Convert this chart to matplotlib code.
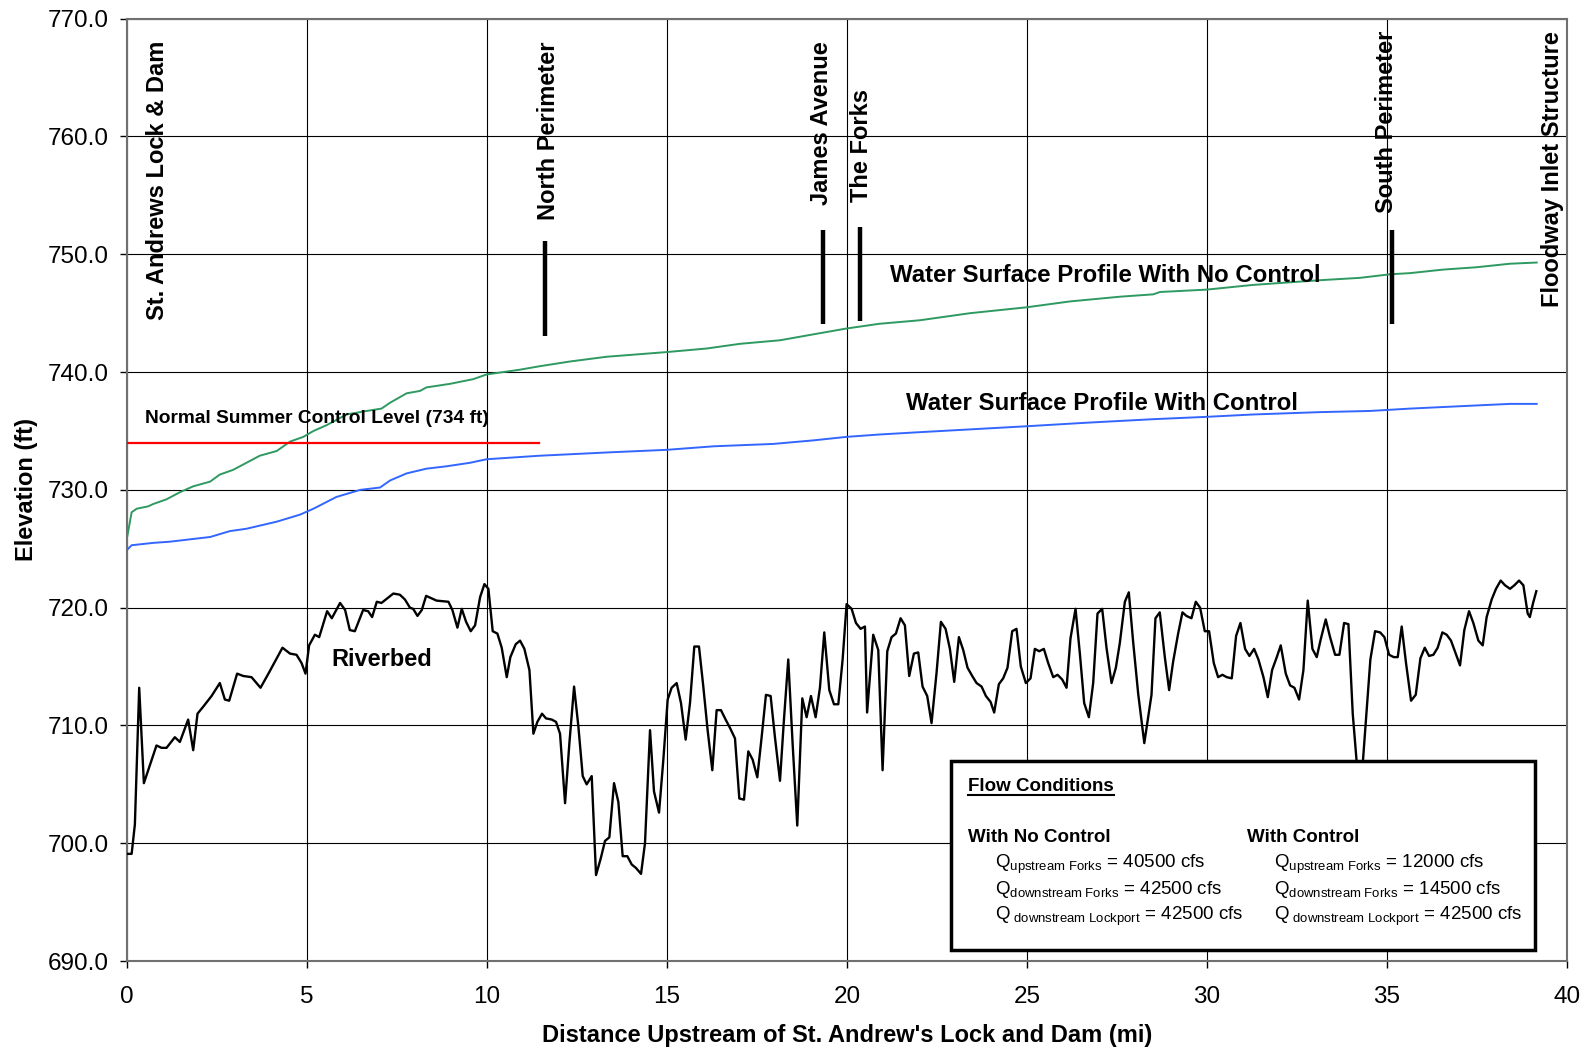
import matplotlib
matplotlib.use("Agg")
import matplotlib.pyplot as plt
from matplotlib.patches import Rectangle
from matplotlib.lines import Line2D

plt.rcParams['font.family'] = ['Liberation Sans', 'DejaVu Sans']
plt.rcParams['mathtext.fontset'] = 'custom'
plt.rcParams['mathtext.rm'] = 'Liberation Sans'
plt.rcParams['mathtext.it'] = 'Liberation Sans:italic'
plt.rcParams['mathtext.bf'] = 'Liberation Sans:bold'

# riverbed profile (mi, ft)
bed_mi = [0.0, 0.13, 0.22, 0.34, 0.47, 0.82, 0.96, 1.10, 1.33, 1.47, 1.70, 1.84, 1.96,
          2.12, 2.35, 2.58, 2.72, 2.84, 3.06, 3.23, 3.46, 3.71, 3.93, 4.32, 4.53, 4.71,
          4.85, 4.96, 5.06, 5.22, 5.34, 5.56, 5.69, 5.92, 6.06, 6.19, 6.33, 6.56, 6.70,
          6.81, 6.94, 7.07, 7.40, 7.58, 7.72, 7.86, 7.95, 8.07, 8.19, 8.31, 8.60, 8.93,
          9.04, 9.18, 9.30, 9.42, 9.55, 9.67, 9.81, 9.93, 10.04, 10.16, 10.29, 10.41,
          10.55, 10.65, 10.80, 10.92, 11.04, 11.18, 11.29, 11.40, 11.53, 11.64, 11.80,
          11.92, 12.03, 12.17, 12.29, 12.42, 12.54, 12.66, 12.77, 12.91, 13.03, 13.16,
          13.28, 13.40, 13.53, 13.65, 13.77, 13.90, 14.02, 14.14, 14.28, 14.39, 14.53,
          14.64, 14.78, 14.90, 15.02, 15.13, 15.27, 15.39, 15.52, 15.64, 15.76, 15.89,
          16.01, 16.13, 16.26, 16.38, 16.50, 16.63, 16.75, 16.89, 17.01, 17.14, 17.26,
          17.38, 17.51, 17.63, 17.75, 17.88, 18.00, 18.14, 18.25, 18.37, 18.49, 18.62,
          18.76, 18.88, 19.00, 19.13, 19.25, 19.37, 19.51, 19.64, 19.76, 19.88, 19.99,
          20.13, 20.25, 20.38, 20.50, 20.56, 20.73, 20.87, 20.99, 21.12, 21.24, 21.36,
          21.49, 21.61, 21.73, 21.86, 21.98, 22.10, 22.23, 22.35, 22.49, 22.61, 22.74,
          22.86, 22.98, 23.11, 23.23, 23.35, 23.48, 23.60, 23.74, 23.86, 23.99, 24.09,
          24.22, 24.34, 24.46, 24.59, 24.71, 24.83, 24.97, 25.10, 25.22, 25.34, 25.47,
          25.59, 25.73, 25.85, 25.98, 26.10, 26.21, 26.35, 26.47, 26.59, 26.72, 26.84,
          26.96, 27.09, 27.21, 27.35, 27.47, 27.58, 27.72, 27.83, 27.95, 28.09, 28.26,
          28.46, 28.57, 28.69, 28.83, 28.95, 29.06, 29.20, 29.32, 29.43, 29.57, 29.69,
          29.81, 29.94, 30.06, 30.19, 30.31, 30.43, 30.55, 30.69, 30.81, 30.93, 31.06,
          31.18, 31.31, 31.43, 31.57, 31.69, 31.81, 31.94, 32.05, 32.19, 32.31, 32.43,
          32.56, 32.68, 32.80, 32.93, 33.05, 33.16, 33.30, 33.42, 33.56, 33.68, 33.81,
          33.93, 34.05, 34.25, 34.54, 34.67, 34.81, 34.93, 35.06, 35.19, 35.30, 35.41,
          35.53, 35.67, 35.80, 35.93, 36.05, 36.17, 36.29, 36.41, 36.54, 36.66, 36.78,
          36.91, 37.03, 37.15, 37.28, 37.40, 37.54, 37.66, 37.77, 37.91, 38.03, 38.16,
          38.28, 38.42, 38.54, 38.67, 38.79, 38.91, 38.97, 39.06, 39.15]
bed_ft = [699.1, 699.1, 701.6, 713.2, 705.1, 708.3, 708.1, 708.1, 709.0, 708.6, 710.5, 707.9, 711.0,
          711.6, 712.5, 713.6, 712.2, 712.1, 714.4, 714.2, 714.1, 713.2, 714.4, 716.6, 716.1, 716.0,
          715.3, 714.4, 716.8, 717.7, 717.5, 719.7, 719.1, 720.4, 719.8, 718.1, 718.0, 719.8, 719.7,
          719.2, 720.5, 720.4, 721.2, 721.1, 720.7, 720.0, 719.9, 719.3, 719.8, 721.0, 720.6, 720.5,
          719.8, 718.3, 719.9, 718.8, 718.0, 718.5, 720.9, 722.0, 721.6, 718.0, 717.8, 716.6,
          714.1, 715.8, 716.9, 717.2, 716.5, 714.7, 709.3, 710.3, 711.0, 710.6, 710.5,
          710.3, 709.3, 703.4, 708.5, 713.3, 709.9, 705.7, 705.0, 705.7, 697.3, 698.7,
          700.2, 700.5, 705.1, 703.5, 698.9, 698.9, 698.2, 697.9, 697.4, 700.0, 709.6,
          704.4, 702.6, 707.1, 712.2, 713.2, 713.6, 711.9, 708.8, 711.9, 716.7, 716.7,
          713.3, 709.6, 706.2, 711.3, 711.3, 710.5, 709.8, 708.9, 703.8, 703.7, 707.8,
          707.1, 705.6, 709.0, 712.6, 712.5, 709.0, 705.3, 710.5, 715.6, 708.5, 701.5,
          712.3, 710.7, 712.5, 710.7, 713.2, 717.9, 713.0, 711.8, 711.8, 715.6, 720.3,
          719.9, 718.7, 718.2, 718.4, 711.1, 717.7, 716.4, 706.2, 716.3, 717.5, 717.8,
          719.1, 718.5, 714.2, 716.1, 716.2, 713.3, 712.5, 710.2, 714.5, 718.8, 718.2,
          716.5, 713.7, 717.5, 716.4, 714.9, 714.2, 713.6, 713.3, 712.5, 712.0, 711.1,
          713.5, 714.0, 714.9, 718.0, 718.2, 715.0, 713.6, 714.0, 716.5, 716.3, 716.5,
          715.3, 714.1, 714.3, 713.9, 713.2, 717.4, 719.9, 716.1, 711.9, 710.7, 713.6,
          719.5, 719.9, 716.6, 713.6, 714.9, 717.0, 720.5, 721.3, 717.1, 712.7, 708.5,
          712.6, 719.1, 719.6, 715.8, 713.0, 715.4, 717.8, 719.6, 719.3, 719.1, 720.5,
          720.0, 718.0, 718.0, 715.3, 714.1, 714.3, 714.1, 714.0, 717.6, 718.7, 716.5,
          715.9, 716.5, 715.6, 714.1, 712.4, 714.7, 715.8, 716.8, 714.4, 713.4, 713.2,
          712.2, 714.7, 720.6, 716.5, 715.8, 717.3, 719.0, 717.5, 716.0, 716.0, 718.7,
          718.6, 711.0, 703.5, 715.6, 718.0, 717.9, 717.5, 716.0, 715.8, 715.8, 718.4,
          715.3, 712.1, 712.6, 715.7, 716.6, 715.9, 716.0, 716.6, 717.9, 717.7, 717.2,
          716.1, 715.1, 718.1, 719.7, 718.7, 717.2, 716.8, 719.2, 720.7, 721.6, 722.3,
          721.9, 721.6, 721.9, 722.3, 721.9, 719.5, 719.2, 720.4, 721.4]

# water surface profile, no control
nc_mi = [0.0, 0.13, 0.27, 0.59, 0.73, 1.10, 1.47, 1.84, 2.31, 2.58, 2.95, 3.32, 3.69,
         4.16, 4.53, 4.90, 5.18, 5.55, 6.10, 6.66, 7.07, 7.31, 7.77, 8.14, 8.32, 8.97,
         9.62, 9.99, 10.91, 11.47, 12.31, 13.32, 14.16, 15.0, 16.1, 17.03, 18.14, 19.06,
         19.99, 20.9, 22.03, 23.42, 24.99, 26.2, 27.59, 28.51, 28.7, 29.99, 31.28, 33.14,
         34.25, 35.08, 35.64, 36.56, 37.49, 38.42, 39.16]
nc_ft = [725.9, 728.1, 728.4, 728.6, 728.8, 729.2, 729.8, 730.3, 730.7, 731.3, 731.7, 732.3, 732.9,
         733.3, 734.1, 734.5, 735.0, 735.5, 736.4, 736.7, 736.9, 737.4, 738.2, 738.4, 738.7, 739.0,
         739.4, 739.8, 740.2, 740.5, 740.9, 741.3, 741.5, 741.7, 742.0, 742.4, 742.7, 743.2,
         743.7, 744.1, 744.4, 745.0, 745.5, 746.0, 746.4, 746.6, 746.8, 747.0, 747.4, 747.8,
         748.0, 748.3, 748.4, 748.7, 748.9, 749.2, 749.3]

# water surface profile, with control
wc_mi = [0.0, 0.13, 0.73, 1.19, 2.31, 2.86, 3.32, 4.16, 4.81, 5.18, 5.82, 6.48, 7.03,
         7.31, 7.77, 8.32, 8.87, 9.53, 9.99, 11.47, 13.5, 15.0, 16.3, 17.95, 19.06, 19.99,
         20.9, 22.03, 24.99, 26.65, 28.5, 29.99, 31.28, 33.14, 34.53, 35.64, 37.02, 38.42, 39.16]
wc_ft = [724.9, 725.3, 725.5, 725.6, 726.0, 726.5, 726.7, 727.3, 727.9, 728.4, 729.4, 730.0, 730.2,
         730.8, 731.4, 731.8, 732.0, 732.3, 732.6, 732.9, 733.2, 733.4, 733.7, 733.9, 734.2, 734.5,
         734.7, 734.9, 735.4, 735.7, 736.0, 736.2, 736.4, 736.6, 736.7, 736.9, 737.1, 737.3, 737.3]

control_level = 734.0
control_end = 11.45

# landmarks: label position and the tick bar drawn under it
sites = ['St. Andrews Lock & Dam', 'North Perimeter', 'James Avenue', 'The Forks',
         'South Perimeter', 'Floodway Inlet Structure']
site_x = [0.86, 11.7, 19.3, 20.4, 35.0, 39.6]
site_y = [744.4, 752.9, 754.2, 754.4, 753.5, 745.5]
bar_x = [11.61, 19.34, 20.36, 35.13]
bar_lo = [743.1, 744.1, 744.3, 744.1]
bar_hi = [751.1, 752.1, 752.3, 752.1]

fig = plt.figure(figsize=(15.85, 10.51), dpi=100)
ax = fig.add_axes([0.0801, 0.0856, 0.9085, 0.8966])

ax.plot(bed_mi, bed_ft, color='black', lw=1.7, zorder=3)
ax.plot(nc_mi, nc_ft, color='#2e9960', lw=1.4, zorder=3)
ax.plot(wc_mi, wc_ft, color='#3366ff', lw=1.4, zorder=3)
ax.plot([0, control_end], [control_level, control_level], color='#ff0000', lw=1.6, zorder=3)

ax.vlines(bar_x, bar_lo, bar_hi, color='black', lw=3.2, zorder=4)
for name, x, y in zip(sites, site_x, site_y):
    ax.text(x, y, name, rotation=90, ha='center', va='bottom', fontsize=17,
            fontweight='bold', zorder=5)

ax.text(0.5, 736.1, 'Normal Summer Control Level (734 ft)', fontsize=13.8,
        fontweight='bold', va='center', zorder=5)
ax.text(21.2, 748.2, 'Water Surface Profile With No Control', fontsize=17.3,
        fontweight='bold', va='center', zorder=5)
ax.text(21.65, 737.3, 'Water Surface Profile With Control', fontsize=17.3,
        fontweight='bold', va='center', zorder=5)
ax.text(5.69, 715.6, 'Riverbed', fontsize=17, fontweight='bold', va='center', zorder=5)

# flow conditions box
ax.add_patch(Rectangle((22.9, 690.95), 16.2, 16.05, facecolor='white', edgecolor='black',
                       lw=2.5, zorder=6))
title = ax.text(23.36, 704.8, 'Flow Conditions', fontsize=13.5, fontweight='bold',
                va='center', zorder=7)
ax.text(23.36, 700.5, 'With No Control', fontsize=13.5, fontweight='bold', va='center', zorder=7)
ax.text(31.1, 700.5, 'With Control', fontsize=13.5, fontweight='bold', va='center', zorder=7)
subs = [r'$_{\mathrm{upstream\ Forks}}$', r'$_{\mathrm{downstream\ Forks}}$',
        r'$_{\ \mathrm{downstream\ Lockport}}$']
flow_nc = ['40500', '42500', '42500']
flow_wc = ['12000', '14500', '42500']
rows_y = [697.9, 695.7, 693.45]
for s, q1, q2, y in zip(subs, flow_nc, flow_wc, rows_y):
    ax.text(24.12, y, 'Q' + s + ' = ' + q1 + ' cfs', fontsize=13.5, va='baseline', zorder=7)
    ax.text(31.85, y, 'Q' + s + ' = ' + q2 + ' cfs', fontsize=13.5, va='baseline', zorder=7)

ax.set_xlim(0, 40)
ax.set_ylim(690, 770)
ax.set_xticks(range(0, 41, 5))
ax.set_yticks(range(690, 771, 10))
ax.yaxis.set_major_formatter(matplotlib.ticker.FormatStrFormatter('%.1f'))
ax.grid(True, color='black', lw=0.8)
ax.set_axisbelow(True)
ax.tick_params(direction='out', length=5, width=1, labelsize=17.5)
ax.tick_params(axis='x', pad=13)
ax.tick_params(axis='y', pad=8)
for sp in ax.spines.values():
    sp.set_color('#707070')
    sp.set_linewidth(1.5)

ax.set_xlabel("Distance Upstream of St. Andrew's Lock and Dam (mi)", fontsize=17,
              fontweight='bold')
ax.set_ylabel('Elevation (ft)', fontsize=17, fontweight='bold')
ax.xaxis.set_label_coords(0.5, -0.067)
ax.yaxis.set_label_coords(-0.062, 0.5)

# underline the box heading
fig.canvas.draw()
bb = title.get_window_extent().transformed(ax.transData.inverted())
ax.add_line(Line2D([bb.x0, bb.x1], [bb.y0 + 0.05, bb.y0 + 0.05], color='black', lw=1.5,
                   zorder=7))

fig.savefig('out.png', dpi=100)
